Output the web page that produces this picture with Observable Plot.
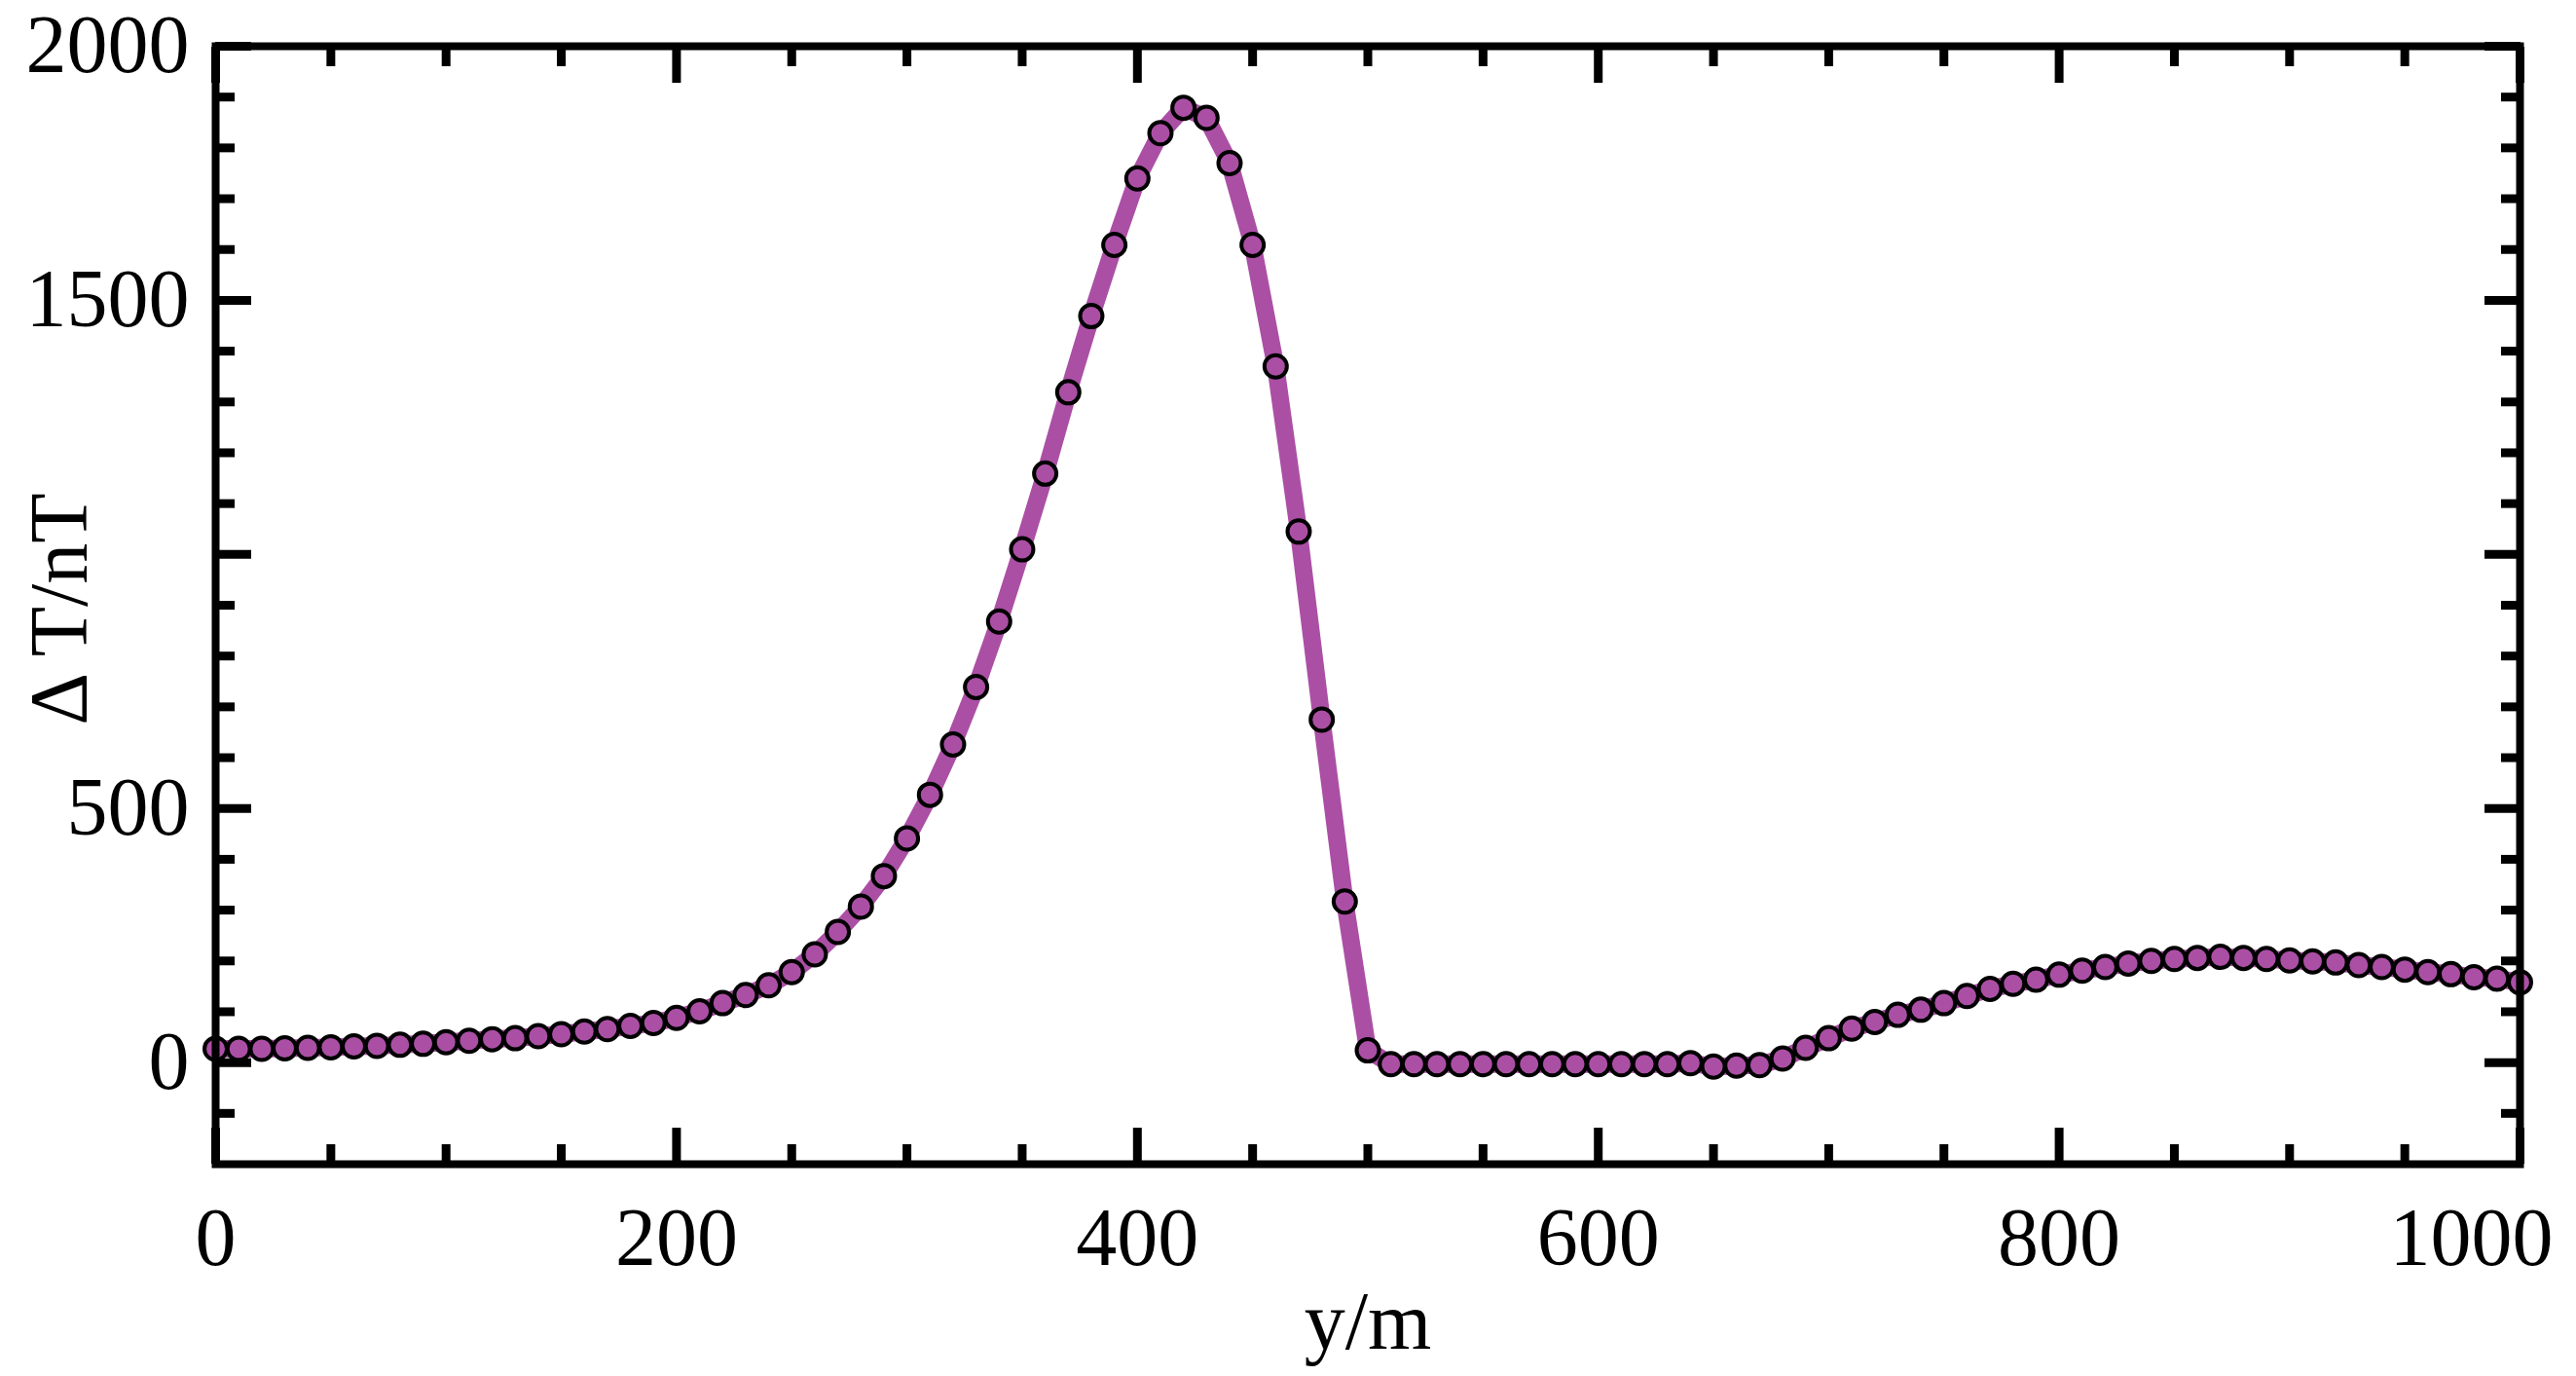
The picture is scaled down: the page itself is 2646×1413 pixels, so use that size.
<!DOCTYPE html>
<html>
<head>
<meta charset="utf-8">
<script src="https://cdn.jsdelivr.net/npm/d3@7"></script>
<script src="https://cdn.jsdelivr.net/npm/@observablehq/plot@0.6"></script>
<style>
  html, body { margin: 0; padding: 0; background: #fff; }
</style>
</head>
<body>
<div id="chart"></div>
<script>
// ---- data ----
const positions = [
  0, 10, 20, 30, 40, 50, 60, 70, 80, 90,
  100, 110, 120, 130, 140, 150, 160, 170, 180, 190,
  200, 210, 220, 230, 240, 250, 260, 270, 280, 290,
  300, 310, 320, 330, 340, 350, 360, 370, 380, 390,
  400, 410, 420, 430, 440, 450, 460, 470, 480, 490,
  500, 510, 520, 530, 540, 550, 560, 570, 580, 590,
  600, 610, 620, 630, 640, 650, 660, 670, 680, 690,
  700, 710, 720, 730, 740, 750, 760, 770, 780, 790,
  800, 810, 820, 830, 840, 850, 860, 870, 880, 890,
  900, 910, 920, 930, 940, 950, 960, 970, 980, 990,
  1000
];
const deltaT = [
  27, 27, 27, 28, 29, 30, 32, 33, 35, 37,
  40, 43, 46, 48, 52, 56, 61, 66, 72, 78,
  88, 101, 117, 133, 152, 178, 213, 257, 307, 367,
  441, 527, 626, 739, 868, 1010, 1159, 1319, 1469, 1609,
  1740, 1829, 1879, 1859, 1770, 1609, 1370, 1045, 675, 317,
  24, -3, -3, -3, -3, -3, -3, -3, -3, -3,
  -3, -3, -3, -3, -1, -8, -6, -5, 8, 29,
  48, 67, 80, 94, 104, 117, 131, 145, 155, 163,
  173, 181, 188, 195, 200, 204, 206, 208, 206, 204,
  201, 199, 197, 192, 188, 183, 178, 174, 168, 165,
  158
];
const xMajorTicks = [0, 200, 400, 600, 800, 1000];
const xLabelTicks = [0, 200, 400, 600, 800];
const xLastLabel = [1000];
const xMinorTicks = [50, 100, 150, 250, 300, 350, 450, 500, 550, 650, 700, 750, 850, 900, 950];
const yLabelTicks = [0, 500, 1500, 2000];
const yMajorTicks = [0, 500, 1000, 1500, 2000];
const yMinorTicks = [-100, 100, 200, 300, 400, 600, 700, 800, 900, 1100, 1200, 1300, 1400, 1600, 1700, 1800, 1900];
const xTitle = "y/m";
const yTitle = "\u0394 T/nT";

// ---- build ----
const data = positions.map((p, i) => ({pos: p, dT: deltaT[i]}));
const purple = "#ab4fa5";
const font = "'Liberation Serif', 'Times New Roman', serif";
const FS = 84;
const TW = 9;
const majorLen = 37, minorLen = 20;
const blank = () => "";
const fmt = d => String(d);

const chart = Plot.plot({
  width: 2646,
  height: 1413,
  marginLeft: 221,
  marginRight: 58,
  marginTop: 47,
  marginBottom: 218,
  style: {fontFamily: font, background: "#fff", color: "#000", overflow: "visible"},
  x: {domain: [0, 1000]},
  y: {domain: [-200, 2000]},
  marks: [
    Plot.line(data, {x: "pos", y: "dT", stroke: purple, strokeWidth: 18}),
    Plot.dot(data, {x: "pos", y: "dT", r: 11.5, fill: purple, stroke: "#000", strokeWidth: 4}),
    // tick marks, inward on all four sides
    Plot.axisX(xMajorTicks, {anchor: "bottom", tickSize: -majorLen, strokeWidth: TW, tickFormat: blank, label: null}),
    Plot.axisX(xMinorTicks, {anchor: "bottom", tickSize: -minorLen, strokeWidth: TW, tickFormat: blank, label: null}),
    Plot.axisX(xMajorTicks, {anchor: "top", tickSize: -majorLen, strokeWidth: TW, tickFormat: blank, label: null}),
    Plot.axisX(xMinorTicks, {anchor: "top", tickSize: -minorLen, strokeWidth: TW, tickFormat: blank, label: null}),
    Plot.axisY(yMajorTicks, {anchor: "left", tickSize: -majorLen, strokeWidth: TW, tickFormat: blank, label: null}),
    Plot.axisY(yMinorTicks, {anchor: "left", tickSize: -minorLen, strokeWidth: TW, tickFormat: blank, label: null}),
    Plot.axisY(yMajorTicks, {anchor: "right", tickSize: -majorLen, strokeWidth: TW, tickFormat: blank, label: null}),
    Plot.axisY(yMinorTicks, {anchor: "right", tickSize: -minorLen, strokeWidth: TW, tickFormat: blank, label: null}),
    // tick labels
    Plot.axisX(xLabelTicks, {anchor: "bottom", tickSize: 0, tickPadding: 44, fontSize: FS, tickFormat: fmt, label: null}),
    Plot.axisX(xLastLabel, {anchor: "bottom", tickSize: 0, tickPadding: 44, dx: -50, fontSize: FS, tickFormat: fmt, label: null}),
    Plot.axisY(yLabelTicks, {anchor: "left", tickSize: 0, tickPadding: 27, fontSize: FS, tickFormat: fmt, label: null}),
    Plot.frame({stroke: "#000", strokeWidth: 8}),
    // axis titles
    Plot.text([xTitle], {text: d => d, frameAnchor: "bottom", dy: 163, fontSize: FS, lineAnchor: "middle", fill: "#000"}),
    Plot.text([yTitle], {text: d => d, frameAnchor: "left", dx: -159, dy: 4, rotate: -90, fontSize: FS, lineAnchor: "middle", textAnchor: "middle", fill: "#000"})
  ]
});
document.getElementById("chart").appendChild(chart);
</script>
</body>
</html>
